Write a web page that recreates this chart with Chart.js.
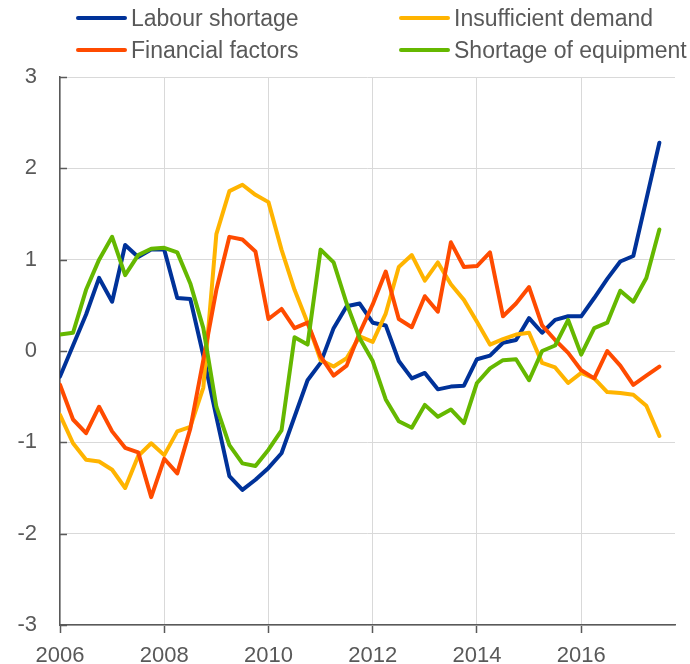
<!DOCTYPE html>
<html>
<head>
<meta charset="utf-8">
<script src="https://cdn.jsdelivr.net/npm/chart.js@4"></script>
<style>
  html, body { margin: 0; padding: 0; background: #fff; }
  #wrap { position: relative; width: 690px; height: 664px; }
  #myChart { position: absolute; left: 0; top: 0; }
  .leg { position: absolute; height: 26px; display: flex; align-items: center;
         font-family: "Liberation Sans", Arial, sans-serif; font-size: 23px; color: #595959; white-space: nowrap; }
  .leg span.sw { display: inline-block; width: 51px; height: 4px; border-radius: 2px; margin-right: 4px; }
</style>
</head>
<body>
<div id="wrap">
  <canvas id="myChart" width="690" height="664"></canvas>
  <div class="leg" style="left:76px;top:5px"><span class="sw" style="background:#003299"></span>Labour shortage</div>
  <div class="leg" style="left:399px;top:5px"><span class="sw" style="background:#FFB400"></span>Insufficient demand</div>
  <div class="leg" style="left:76px;top:37px"><span class="sw" style="background:#FF4B00"></span>Financial factors</div>
  <div class="leg" style="left:399px;top:37px"><span class="sw" style="background:#65B800"></span>Shortage of equipment</div>
</div>
<script>
// quarterly, 2006 Q1 .. 2017 Q3
const startYear = 2006;
const xTicks = [2006, 2008, 2010, 2012, 2014, 2016];
const yTicks = [-3, -2, -1, 0, 1, 2, 3];

const labourShortage = [-0.28, 0.06, 0.40, 0.80, 0.54, 1.16, 1.03, 1.11, 1.11, 0.58, 0.57, -0.05,
  -0.72, -1.37, -1.52, -1.41, -1.28, -1.12, -0.72, -0.32, -0.13, 0.25, 0.49, 0.52,
  0.31, 0.28, -0.11, -0.30, -0.24, -0.42, -0.39, -0.38, -0.09, -0.05, 0.09, 0.12,
  0.36, 0.20, 0.34, 0.38, 0.38, 0.58, 0.79, 0.98, 1.04, 1.66, 2.28];
const insufficientDemand = [-0.70, -1.01, -1.19, -1.21, -1.30, -1.50, -1.15, -1.01, -1.14, -0.88, -0.83, -0.40,
  1.28, 1.75, 1.82, 1.71, 1.63, 1.11, 0.67, 0.31, -0.10, -0.17, -0.08, 0.16,
  0.10, 0.41, 0.92, 1.05, 0.77, 0.97, 0.73, 0.56, 0.32, 0.07, 0.13, 0.18,
  0.20, -0.13, -0.18, -0.35, -0.24, -0.30, -0.45, -0.46, -0.48, -0.60, -0.93];
const financialFactors = [-0.37, -0.75, -0.90, -0.61, -0.88, -1.06, -1.11, -1.60, -1.18, -1.34, -0.85, -0.10,
  0.67, 1.25, 1.22, 1.09, 0.35, 0.46, 0.25, 0.31, -0.06, -0.27, -0.16, 0.20,
  0.51, 0.87, 0.35, 0.26, 0.60, 0.43, 1.19, 0.92, 0.93, 1.08, 0.38, 0.52,
  0.70, 0.28, 0.12, -0.02, -0.21, -0.30, 0.00, -0.16, -0.37, -0.27, -0.17];
const shortageEquipment = [0.18, 0.20, 0.67, 1.00, 1.25, 0.83, 1.05, 1.12, 1.13, 1.08, 0.74, 0.25,
  -0.61, -1.03, -1.23, -1.26, -1.08, -0.87, 0.15, 0.07, 1.11, 0.97, 0.52, 0.14,
  -0.11, -0.53, -0.77, -0.84, -0.59, -0.72, -0.64, -0.79, -0.35, -0.19, -0.10, -0.09,
  -0.32, 0.00, 0.06, 0.34, -0.04, 0.25, 0.31, 0.66, 0.54, 0.80, 1.33];

const toPoints = arr => arr.map((v, i) => ({ x: startYear + i / 4, y: v }));

function series(label, values, color) {
  return {
    label: label,
    data: toPoints(values),
    borderColor: color,
    backgroundColor: color,
    borderWidth: 4,
    pointRadius: 0,
    tension: 0,
    borderJoinStyle: 'round',
    borderCapStyle: 'round'
  };
}

// inward tick marks on the y axis
const yInwardTicks = {
  id: 'yInwardTicks',
  afterDraw(chart) {
    const c = chart.ctx, ys = chart.scales.y, left = chart.chartArea.left;
    c.save();
    c.strokeStyle = '#595959';
    c.lineWidth = 1.5;
    ys.ticks.forEach(t => {
      const py = Math.round(ys.getPixelForValue(t.value)) + 0.5;
      c.beginPath();
      c.moveTo(left, py);
      c.lineTo(left + 7, py);
      c.stroke();
    });
    c.restore();
  }
};

const ctx = document.getElementById("myChart");
const myChart = new Chart(ctx, {
  type: 'line',
  data: {
    datasets: [
      series('Shortage of equipment', shortageEquipment, '#65B800'),
      series('Financial factors', financialFactors, '#FF4B00'),
      series('Insufficient demand', insufficientDemand, '#FFB400'),
      series('Labour shortage', labourShortage, '#003299')
    ]
  },
  options: {
    responsive: false,
    animation: false,
    layout: { padding: { top: 77, right: 15, left: 0, bottom: 0 } },
    plugins: {
      legend: { display: false },
      tooltip: { enabled: false }
    },
    scales: {
      x: {
        type: 'linear',
        min: 2006,
        max: 2017.8,
        afterBuildTicks: s => { s.ticks = xTicks.map(v => ({ value: v })); },
        afterFit: s => { s.height = 39; },
        grid: { color: '#d9d9d9', lineWidth: 1, tickLength: 8, tickColor: '#595959', tickWidth: 1.5 },
        border: { color: '#595959', width: 1.5 },
        ticks: {
          padding: 10,
          maxRotation: 0,
          color: '#595959',
          font: { family: '"Liberation Sans", Arial, sans-serif', size: 22 },
          callback: v => String(v)
        }
      },
      y: {
        min: -3,
        max: 3,
        afterBuildTicks: s => { s.ticks = yTicks.map(v => ({ value: v })); },
        afterFit: s => { s.width = 60; },
        grid: { color: '#d9d9d9', lineWidth: 1, drawTicks: false },
        border: { color: '#595959', width: 1.5 },
        ticks: {
          padding: 23,
          color: '#595959',
          font: { family: '"Liberation Sans", Arial, sans-serif', size: 22 }
        }
      }
    }
  },
  plugins: [yInwardTicks]
});
</script>
</body>
</html>
